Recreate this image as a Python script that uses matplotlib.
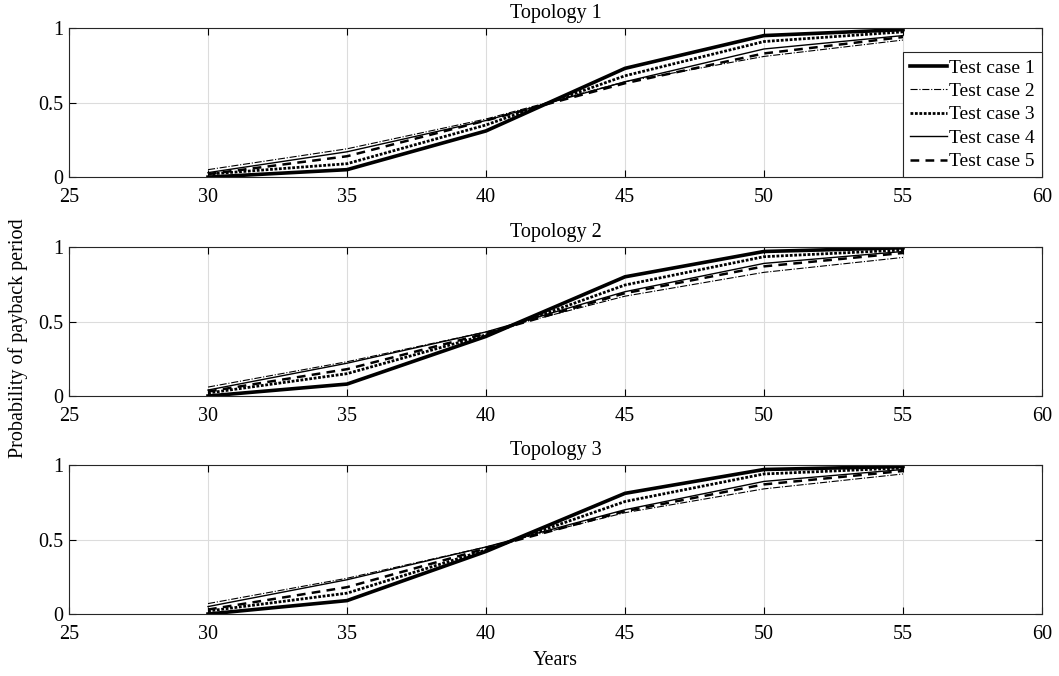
import numpy as np
import matplotlib
matplotlib.use("Agg")
import matplotlib.pyplot as plt

plt.rcParams['font.family'] = ['Liberation Serif', 'DejaVu Serif']

# Data
years = [30, 35, 40, 45, 50, 55]
case_labels = ["Test case 1", "Test case 2", "Test case 3", "Test case 4", "Test case 5"]
titles = ["Topology 1", "Topology 2", "Topology 3"]

topo1 = [
    [0.00, 0.05, 0.31, 0.73, 0.95, 0.99],
    [0.05, 0.19, 0.39, 0.64, 0.81, 0.92],
    [0.02, 0.09, 0.35, 0.68, 0.91, 0.975],
    [0.03, 0.17, 0.38, 0.64, 0.86, 0.95],
    [0.02, 0.14, 0.38, 0.63, 0.83, 0.94],
]
topo2 = [
    [0.00, 0.08, 0.40, 0.80, 0.97, 0.995],
    [0.06, 0.23, 0.43, 0.67, 0.83, 0.93],
    [0.02, 0.15, 0.41, 0.745, 0.935, 0.98],
    [0.04, 0.22, 0.43, 0.70, 0.89, 0.97],
    [0.03, 0.18, 0.42, 0.69, 0.87, 0.96],
]
topo3 = [
    [0.00, 0.09, 0.42, 0.81, 0.97, 0.99],
    [0.07, 0.24, 0.45, 0.68, 0.84, 0.94],
    [0.02, 0.14, 0.43, 0.755, 0.94, 0.98],
    [0.05, 0.23, 0.45, 0.70, 0.89, 0.97],
    [0.03, 0.18, 0.44, 0.69, 0.87, 0.96],
]
all_topos = [topo1, topo2, topo3]

# line styles per test case
styles = [
    dict(ls='-', lw=2.6),
    dict(ls='-.', lw=0.8),
    dict(ls=(0, (1, 0.6)), lw=2.0),
    dict(ls='-', lw=1.0),
    dict(ls=(0, (3.5, 2.5)), lw=1.8),
]

FS = 14.5

fig = plt.figure(figsize=(10.59, 6.76), dpi=100)
left, width, height = 0.0652, 0.9187, 0.2204
bottoms = [0.738, 0.4142, 0.0917]

for i, (topo, title) in enumerate(zip(all_topos, titles)):
    ax = fig.add_axes([left, bottoms[i], width, height])
    for vals, st, lab in zip(topo, styles, case_labels):
        ax.plot(years, vals, color='black', label=lab, **st)
    ax.set_xlim(25, 60)
    ax.set_ylim(0, 1)
    ax.set_xticks([25, 30, 35, 40, 45, 50, 55, 60])
    ax.set_yticks([0, 0.5, 1])
    ax.set_yticklabels(["0", "0.5", "1"])
    ax.grid(True, color='#dcdcdc', lw=0.8)
    ax.tick_params(direction='in', labelsize=FS, length=5, top=True, right=True)
    ax.tick_params(axis='x', pad=8)
    ax.tick_params(axis='y', pad=4)
    for sp in ax.spines.values():
        sp.set_color('#262626')
        sp.set_linewidth(0.8)
    ax.set_title(title, fontsize=FS, pad=7)
    if i == 0:
        leg = ax.legend(loc='lower right', fontsize=14, fancybox=False, edgecolor='#262626',
                        framealpha=1, borderaxespad=0, handlelength=1.95, handletextpad=0.1,
                        labelspacing=0.3, borderpad=0.35)
        leg.get_frame().set_linewidth(0.8)
    if i == 2:
        ax.set_xlabel("Years", fontsize=FS, labelpad=5)

fig.text(0.017, 0.5, "Probability of payback period", rotation=90, va='center', ha='center', fontsize=FS)

fig.savefig("out.png", dpi=100)
